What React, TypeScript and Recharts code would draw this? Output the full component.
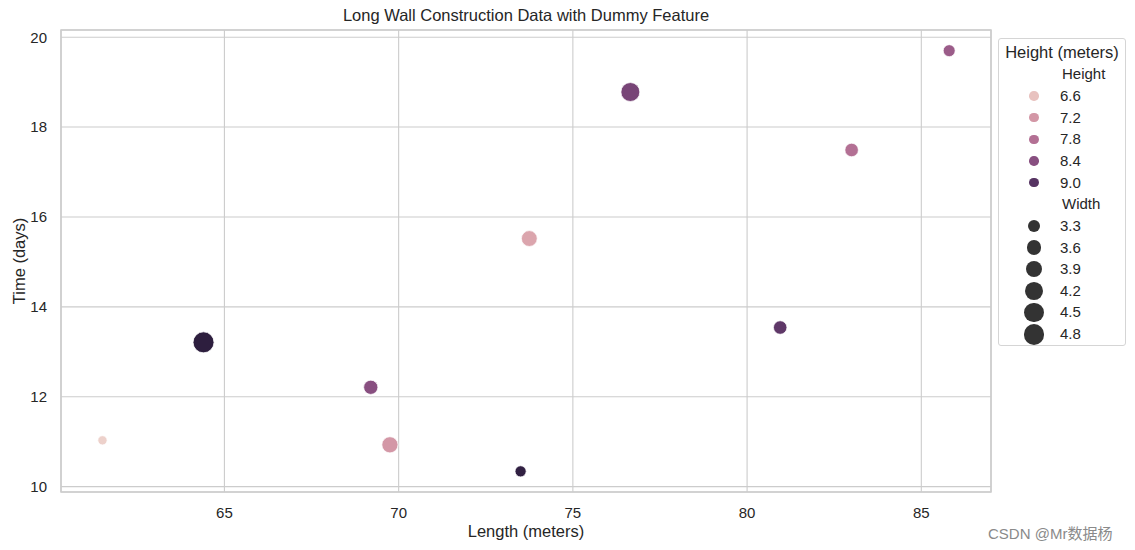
import {
  ScatterChart,
  Scatter,
  XAxis,
  YAxis,
  ZAxis,
  CartesianGrid,
  ReferenceArea,
  Cell,
} from "recharts";

const LENGTHS = [61.5, 64.4, 69.2, 69.75, 73.5, 73.75, 76.65, 80.95, 83.0, 85.8];
const TIMES = [11.03, 13.21, 12.21, 10.93, 10.34, 15.52, 18.78, 13.54, 17.49, 19.7];
const HEIGHTS = [6.4, 9.5, 8.4, 7.2, 9.45, 7.0, 8.6, 8.9, 7.8, 8.15];
const WIDTHS = [3.0, 4.82, 3.6, 3.9, 3.2, 3.85, 4.4, 3.5, 3.5, 3.3];

const X_TICKS = [65, 70, 75, 80, 85];
const Y_TICKS = [10, 12, 14, 16, 18, 20];
const HEIGHT_TICKS = [6.6, 7.2, 7.8, 8.4, 9.0];
const WIDTH_TICKS = [3.3, 3.6, 3.9, 4.2, 4.5, 4.8];

const X_DOMAIN = [60.31, 87.0];
const Y_DOMAIN = [9.88, 20.16];

const FONT = "'Liberation Sans', Arial, sans-serif";
const INK = "#262626";
const GRID = "#cccccc";

const data = LENGTHS.map((length, i) => ({
  length,
  time: TIMES[i],
  height: HEIGHTS[i],
  width: WIDTHS[i],
}));

const hMin = Math.min(...HEIGHTS);
const hMax = Math.max(...HEIGHTS);
const wMin = Math.min(...WIDTHS);
const wMax = Math.max(...WIDTHS);
const AREA_RANGE = [67, 346];

// seaborn's default sequential cubehelix (light -> dark)
function cubehelix(t: number) {
  const x = 0.85 + (0.15 - 0.85) * t;
  const a = (0.8 * x * (1 - x)) / 2;
  const phi = 2 * Math.PI * (0.4 * x);
  const c = Math.cos(phi);
  const s = Math.sin(phi);
  const r = x + a * (-0.14861 * c + 1.78277 * s);
  const g = x + a * (-0.29227 * c - 0.90649 * s);
  const b = x + a * (1.97294 * c);
  const to = (v: number) => Math.round(Math.min(1, Math.max(0, v)) * 255);
  return `rgb(${to(r)},${to(g)},${to(b)})`;
}

const hueColor = (h: number) => cubehelix((h - hMin) / (hMax - hMin));
const markerDiameter = (w: number) => {
  const area = AREA_RANGE[0] + ((w - wMin) / (wMax - wMin)) * (AREA_RANGE[1] - AREA_RANGE[0]);
  return 2 * Math.sqrt(area / Math.PI);
};

function LegendBox() {
  const rowH = 21.65;
  const rows: { label: string; kind: "head" | "hue" | "size"; v?: number }[] = [
    { label: "Height", kind: "head" },
    ...HEIGHT_TICKS.map((v) => ({ label: v.toFixed(1), kind: "hue" as const, v })),
    { label: "Width", kind: "head" },
    ...WIDTH_TICKS.map((v) => ({ label: v.toFixed(1), kind: "size" as const, v })),
  ];
  return (
    <div
      style={{
        position: "absolute",
        left: 998,
        top: 38,
        width: 128,
        height: 308,
        border: "1px solid #d5d5d5",
        borderRadius: 3,
        background: "#fff",
        fontFamily: FONT,
        color: INK,
        boxSizing: "border-box",
      }}
    >
      <div
        style={{ position: "absolute", top: 3, left: 0, width: 126, textAlign: "center", fontSize: 16.5, lineHeight: "20px" }}
      >
        Height (meters)
      </div>
      {rows.map((r, i) => {
        const cy = 35.3 + i * rowH;
        const d = r.kind === "hue" ? 9.5 : r.kind === "size" ? markerDiameter(r.v as number) : 0;
        const fill = r.kind === "hue" ? hueColor(r.v as number) : "#333333";
        return (
          <div key={i}>
            {d > 0 && (
              <div
                style={{
                  position: "absolute",
                  left: 35 - d / 2,
                  top: cy - d / 2,
                  width: d,
                  height: d,
                  borderRadius: "50%",
                  background: fill,
                }}
              />
            )}
            <div
              style={{
                position: "absolute",
                left: r.kind === "head" ? 63 : 61,
                top: cy - 9,
                fontSize: 15,
                lineHeight: "18px",
              }}
            >
              {r.label}
            </div>
          </div>
        );
      })}
    </div>
  );
}

export default function App() {
  return (
    <div style={{ position: "absolute", left: 0, top: 0, width: 1135, height: 550, background: "#fff", fontFamily: FONT }}>
      <div
        style={{
          position: "absolute",
          top: 5,
          left: 61,
          width: 930,
          textAlign: "center",
          fontSize: 16.5,
          lineHeight: "20px",
          color: INK,
        }}
      >
        Long Wall Construction Data with Dummy Feature
      </div>
      <ScatterChart width={1135} height={550} margin={{ top: 30, right: 144, bottom: 8, left: 21 }}>
        <CartesianGrid stroke={GRID} strokeWidth={1.1} />
        <XAxis
          type="number"
          dataKey="length"
          domain={X_DOMAIN}
          ticks={X_TICKS}
          allowDataOverflow
          height={50}
          axisLine={false}
          tickLine={false}
          tickSize={0}
          tickMargin={15}
          tick={{ fill: INK, fontSize: 15, fontFamily: FONT }}
          label={{ value: "Length (meters)", position: "insideBottom", offset: 5, fill: INK, fontSize: 16.5, fontFamily: FONT }}
        />
        <YAxis
          type="number"
          dataKey="time"
          domain={Y_DOMAIN}
          ticks={Y_TICKS}
          allowDataOverflow
          width={40}
          axisLine={false}
          tickLine={false}
          tickSize={0}
          tickMargin={14}
          tick={{ fill: INK, fontSize: 15, fontFamily: FONT }}
          label={{ value: "Time (days)", angle: -90, position: "insideLeft", offset: -2, fill: INK, fontSize: 16.5, fontFamily: FONT, style: { textAnchor: "middle" } }}
        />
        <ZAxis type="number" dataKey="width" domain={[wMin, wMax]} range={AREA_RANGE} />
        <ReferenceArea
          x1={X_DOMAIN[0]}
          x2={X_DOMAIN[1]}
          y1={Y_DOMAIN[0]}
          y2={Y_DOMAIN[1]}
          fill="none"
          stroke={GRID}
          strokeWidth={1.5}
        />
        <Scatter data={data} isAnimationActive={false} stroke="#ffffff" strokeWidth={0.75}>
          {data.map((d, i) => (
            <Cell key={i} fill={hueColor(d.height)} />
          ))}
        </Scatter>
      </ScatterChart>
      <LegendBox />
      <div
        style={{
          position: "absolute",
          left: 988,
          top: 522,
          fontSize: 15,
          color: "#8a8a8a",
          fontFamily: "'Liberation Sans', 'Noto Sans CJK SC', sans-serif",
        }}
      >
        CSDN @Mr数据杨
      </div>
    </div>
  );
}
